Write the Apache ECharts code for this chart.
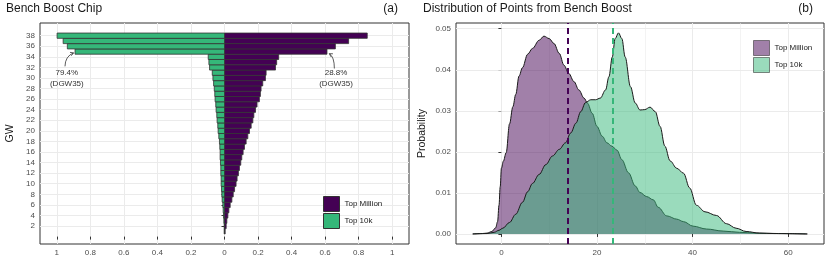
<!DOCTYPE html>
<html><head><meta charset="utf-8">
<script src="https://cdn.jsdelivr.net/npm/echarts@6/dist/echarts.min.js"></script>
<style>html,body{margin:0;padding:0;background:#fff}#c{width:830px;height:277px}</style>
</head><body><div id="c"></div>
<script>
// ---------- Panel (a): cumulative share of managers who played Bench Boost by GW ----------
const gameweeks = [1,2,3,4,5,6,7,8,9,10,11,12,13,14,15,16,17,18,19,20,21,22,23,24,25,26,27,28,29,30,31,32,33,34,35,36,37,38];
const topMillionCum = [0.004,0.010,0.014,0.020,0.026,0.034,0.044,0.052,0.060,0.069,0.075,0.083,0.089,0.097,0.103,0.111,0.119,0.129,0.139,0.149,0.159,0.169,0.175,0.185,0.194,0.208,0.214,0.218,0.228,0.244,0.248,0.304,0.311,0.323,0.611,0.661,0.740,0.851];
const top10kCum = [0.002,0.002,0.004,0.006,0.008,0.010,0.014,0.016,0.018,0.020,0.020,0.022,0.022,0.024,0.026,0.026,0.028,0.030,0.034,0.038,0.040,0.044,0.046,0.050,0.052,0.056,0.058,0.061,0.065,0.069,0.073,0.089,0.093,0.097,0.891,0.937,0.962,0.998];
const gwTickLabels = [2,4,6,8,10,12,14,16,18,20,22,24,26,28,30,32,34,36,38];
const shareTickLabels = [-1,-0.8,-0.6,-0.4,-0.2,0,0.2,0.4,0.6,0.8,1];
// annotations: [textX, textY, label, arrowStartX, arrowStartY, ctrlX, ctrlY, tipX, tipY]
const annotations = [
  [-0.94, 29.9, '79.4%\n(DGW35)', -0.951, 32.2, -0.950, 34.1, -0.900, 34.75],
  [0.665, 29.9, '28.8%\n(DGW35)', 0.655, 31.8, 0.655, 34.0, 0.625, 34.6]
];

// ---------- Panel (b): density of bench boost points ----------
const densityTopMillion = [
  [-6,0],[-4,0.0001],[-3,0.0002],[-2,0.0006],[-1.2,0.0015],[-0.8,0.003],[-0.5,0.007],[-0.25,0.0115],
  [0,0.0160],[0.4,0.0177],[1.0,0.0198],[1.7,0.0268],[2.4,0.0310],[3.0,0.0340],[3.7,0.0385],[4.4,0.0405],
  [5.5,0.0438],[6.5,0.0452],[7.9,0.0472],[8.9,0.0482],[10.0,0.0476],[11.0,0.0464],[12.1,0.0440],
  [13.1,0.0411],[14.1,0.0391],[15.2,0.0371],[16.2,0.0351],[17.3,0.0331],[18.0,0.0319],[19.0,0.0294],
  [20.0,0.0262],[21.1,0.0238],[22.1,0.0222],[23.1,0.0214],[24.2,0.0204],[25.2,0.0181],[26.6,0.0149],
  [28.0,0.0117],[29.0,0.0101],[30.4,0.0091],[31.8,0.0083],[32.8,0.0065],[34.6,0.0044],[36.7,0.0036],
  [38.1,0.0030],[40.1,0.0019],[42.9,0.0012],[46.4,0.0007],[49.8,0.0004],[53.3,0.0002],[58,0.0001],[64,0]
];
const densityTop10k = [
  [-6,0],[-3,0.0001],[-1.5,0.0004],[-0.5,0.0009],[0.3,0.0014],[1.7,0.0028],[3.0,0.0048],[4.4,0.0077],
  [5.5,0.0103],[6.5,0.0123],[7.9,0.0145],[9.3,0.0169],[10.7,0.0190],[12.1,0.0206],[13.4,0.0222],
  [14.5,0.0246],[15.6,0.0270],[16.6,0.0298],[17.6,0.0320],[18.7,0.0327],[19.7,0.0327],[20.7,0.0331],
  [21.8,0.0351],[22.5,0.0383],[23.2,0.0431],[23.8,0.0476],[24.5,0.0490],[25.2,0.0476],[25.9,0.0431],
  [27.0,0.0359],[28.0,0.0319],[29.0,0.0302],[30.0,0.0303],[31.1,0.0309],[32.2,0.0298],[33.2,0.0262],
  [34.2,0.0214],[35.3,0.0178],[36.7,0.0160],[38.1,0.0148],[39.4,0.0112],[40.8,0.0070],[42.6,0.0054],
  [45.0,0.0045],[47.1,0.0025],[49.1,0.0014],[51.2,0.0006],[54.0,0.0002],[57,0.0001],[64,0]
];
const meanTopMillion = 13.9;
const meanTop10k = 23.3;
const pointsMajorTicks = [0,20,40,60];
const pointsMinorTicks = [10,30,50];
const probMajorTicks = [0,0.01,0.02,0.03,0.04,0.05];
const probMinorTicks = [0.005,0.015,0.025,0.035,0.045];

const PURPLE = '#440154', GREEN = '#35b779';
const FONT = 'Liberation Sans, Arial, Helvetica, sans-serif';
const tickLbl = {fontSize: 8, color: '#4d4d4d', fontFamily: FONT};

function barSeries(name, vals, sign, color) {
  return {
    type: 'custom', name: name, xAxisIndex: 0, yAxisIndex: 0,
    encode: {x: 1, y: 0},
    data: gameweeks.map((g, i) => [g, vals[i] * sign]),
    itemStyle: {color: color},
    renderItem: function (params, api) {
      const g = api.value(0), v = api.value(1);
      const p0 = api.coord([0, g + 0.5]);
      const p1 = api.coord([v, g - 0.5]);
      return {
        type: 'rect',
        shape: {x: Math.min(p0[0], p1[0]), y: p0[1], width: Math.abs(p1[0] - p0[0]), height: p1[1] - p0[1]},
        style: {fill: color, stroke: '#333333', lineWidth: 0.8}
      };
    }
  };
}

const chart = echarts.init(document.getElementById('c'), null, {renderer: 'canvas'});
const option = {
  animation: false,
  backgroundColor: '#ffffff',
  textStyle: {fontFamily: FONT},
  title: [
    {text: 'Bench Boost Chip', left: 6, top: 3, padding: 0, textStyle: {fontSize: 12, fontWeight: 'normal', color: '#1a1a1a', fontFamily: FONT}},
    {text: '(a)', right: 432, top: 3, padding: 0, textStyle: {fontSize: 12, fontWeight: 'normal', color: '#1a1a1a', fontFamily: FONT}},
    {text: 'Distribution of Points from Bench Boost', left: 423, top: 3, padding: 0, textStyle: {fontSize: 12, fontWeight: 'normal', color: '#1a1a1a', fontFamily: FONT}},
    {text: '(b)', right: 17, top: 3, padding: 0, textStyle: {fontSize: 12, fontWeight: 'normal', color: '#1a1a1a', fontFamily: FONT}}
  ],
  legend: [
    {
      left: 323, top: 196, padding: 0, orient: 'vertical', itemWidth: 16, itemHeight: 15, itemGap: 1,
      selectedMode: false, icon: 'rect',
      textStyle: {fontSize: 8, color: '#1a1a1a', fontFamily: FONT},
      data: [
        {name: 'Top Million', itemStyle: {color: PURPLE, borderColor: '#333333', borderWidth: 1}},
        {name: 'Top 10k', itemStyle: {color: GREEN, borderColor: '#333333', borderWidth: 1}}
      ]
    },
    {
      left: 753, top: 40, padding: 0, orient: 'vertical', itemWidth: 16, itemHeight: 15, itemGap: 1,
      selectedMode: false, icon: 'rect',
      textStyle: {fontSize: 8, color: '#1a1a1a', fontFamily: FONT},
      data: [
        {name: 'Top Million', itemStyle: {color: 'rgba(68,1,84,0.5)', borderColor: 'rgba(26,26,26,0.5)', borderWidth: 1}},
        {name: 'Top 10k', itemStyle: {color: 'rgba(53,183,121,0.5)', borderColor: 'rgba(26,26,26,0.5)', borderWidth: 1}}
      ]
    }
  ],
  grid: [
    {left: 40, right: 421, top: 23, bottom: 33, show: true, borderColor: '#333333', borderWidth: 1, backgroundColor: 'transparent'},
    {left: 456, right: 6, top: 23, bottom: 33, show: true, borderColor: '#333333', borderWidth: 1, backgroundColor: 'transparent'}
  ],
  xAxis: [
    {
      gridIndex: 0, type: 'value', min: -1.1, max: 1.1, splitNumber: 11,
      axisLine: {show: false},
      axisTick: {show: true, length: 3, customValues: shareTickLabels, lineStyle: {color: '#333333'}},
      axisLabel: {customValues: shareTickLabels, margin: 5, ...tickLbl,
        formatter: v => String(Math.round(Math.abs(v) * 10) / 10)},
      splitLine: {show: true, lineStyle: {color: '#ebebeb', width: 1}}
    },
    {
      gridIndex: 1, type: 'value', min: -9.5, max: 67.5, splitNumber: 4,
      axisLine: {show: false},
      axisTick: {show: true, length: 3, customValues: pointsMajorTicks, lineStyle: {color: '#333333'}},
      axisLabel: {customValues: pointsMajorTicks, margin: 5, ...tickLbl, formatter: v => String(v)},
      splitLine: {show: true, lineStyle: {color: '#ebebeb', width: 1}}
    }
  ],
  yAxis: [
    {
      gridIndex: 0, type: 'value', min: -1.4, max: 40.4, splitNumber: 21,
      name: 'GW', nameLocation: 'middle', nameGap: 24, nameRotate: 90,
      nameTextStyle: {fontSize: 10.5, color: '#1a1a1a', fontFamily: FONT},
      axisLine: {show: false},
      axisTick: {show: true, length: 3, customValues: gwTickLabels, lineStyle: {color: '#333333'}},
      axisLabel: {customValues: gwTickLabels, margin: 5, ...tickLbl, formatter: v => String(v)},
      splitLine: {show: true, lineStyle: {color: '#ebebeb', width: 1}}
    },
    {
      gridIndex: 1, type: 'value', min: -0.00245, max: 0.0514, splitNumber: 5,
      name: 'Probability', nameLocation: 'middle', nameGap: 28, nameRotate: 90,
      nameTextStyle: {fontSize: 10.5, color: '#1a1a1a', fontFamily: FONT},
      axisLine: {show: false},
      axisTick: {show: true, length: 3, customValues: probMajorTicks, lineStyle: {color: '#333333'}},
      axisLabel: {customValues: probMajorTicks, margin: 5, ...tickLbl, formatter: v => v.toFixed(2)},
      splitLine: {show: true, lineStyle: {color: '#ebebeb', width: 1}}
    }
  ],
  series: [
    barSeries('Top Million', topMillionCum, 1, PURPLE),
    barSeries('Top 10k', top10kCum, -1, GREEN),
    {
      type: 'custom', name: 'annotations', xAxisIndex: 0, yAxisIndex: 0, silent: true, z: 5,
      encode: {x: 0, y: 1},
      data: annotations.map(a => [a[0], a[1], a[3], a[4], a[5], a[6], a[7], a[8]]),
      renderItem: function (params, api) {
        const a = annotations[params.dataIndex];
        const t = api.coord([a[0], a[1]]);
        const s = api.coord([a[3], a[4]]);
        const c = api.coord([a[5], a[6]]);
        const e = api.coord([a[7], a[8]]);
        const dx = e[0] - c[0], dy = e[1] - c[1];
        const L = Math.sqrt(dx * dx + dy * dy) || 1;
        const ux = dx / L, uy = dy / L, hl = 3.6, ang = Math.PI / 6;
        const rot = (x, y, th) => [x * Math.cos(th) - y * Math.sin(th), x * Math.sin(th) + y * Math.cos(th)];
        const r1 = rot(-ux, -uy, ang), r2 = rot(-ux, -uy, -ang);
        return {
          type: 'group',
          children: [
            {type: 'text', style: {text: a[2], x: t[0], y: t[1], align: 'center', verticalAlign: 'middle',
              fontSize: 8, lineHeight: 11, fill: '#333333', fontFamily: FONT}},
            {type: 'bezierCurve', shape: {x1: s[0], y1: s[1], x2: e[0], y2: e[1], cpx1: c[0], cpy1: c[1]},
              style: {stroke: '#333333', lineWidth: 0.8, fill: null}},
            {type: 'polyline', shape: {points: [[e[0] + r1[0] * hl, e[1] + r1[1] * hl], e, [e[0] + r2[0] * hl, e[1] + r2[1] * hl]]},
              style: {stroke: '#333333', lineWidth: 0.8, fill: null}}
          ]
        };
      }
    },
    {
      type: 'line', name: 'minorGrid', xAxisIndex: 1, yAxisIndex: 1, data: [], z: 1,
      markLine: {
        silent: true, symbol: 'none', label: {show: false}, animation: false, z: 1,
        lineStyle: {color: '#ebebeb', width: 0.6, type: 'solid'},
        data: pointsMinorTicks.map(v => ({xAxis: v})).concat(probMinorTicks.map(v => ({yAxis: v})))
      }
    },
    {
      type: 'line', name: 'Top Million', xAxisIndex: 1, yAxisIndex: 1,
      data: densityTopMillion, showSymbol: false, smooth: 0.35, smoothMonotone: 'x',
      lineStyle: {color: '#1a1a1a', width: 1}, itemStyle: {color: PURPLE},
      areaStyle: {color: PURPLE, opacity: 0.5}, z: 2
    },
    {
      type: 'line', name: 'Top 10k', xAxisIndex: 1, yAxisIndex: 1,
      data: densityTop10k, showSymbol: false, smooth: 0.35, smoothMonotone: 'x',
      lineStyle: {color: '#1a1a1a', width: 1}, itemStyle: {color: GREEN},
      areaStyle: {color: GREEN, opacity: 0.5}, z: 3
    },
    {
      type: 'line', name: 'means', xAxisIndex: 1, yAxisIndex: 1, data: [], z: 4,
      markLine: {
        silent: true, symbol: 'none', label: {show: false}, animation: false, z: 6,
        data: [
          {xAxis: meanTopMillion, lineStyle: {color: PURPLE, width: 2, type: [6, 4]}},
          {xAxis: meanTop10k, lineStyle: {color: GREEN, width: 2, type: [6, 4]}}
        ]
      }
    }
  ]
};
chart.setOption(option);
</script>
</body></html>
